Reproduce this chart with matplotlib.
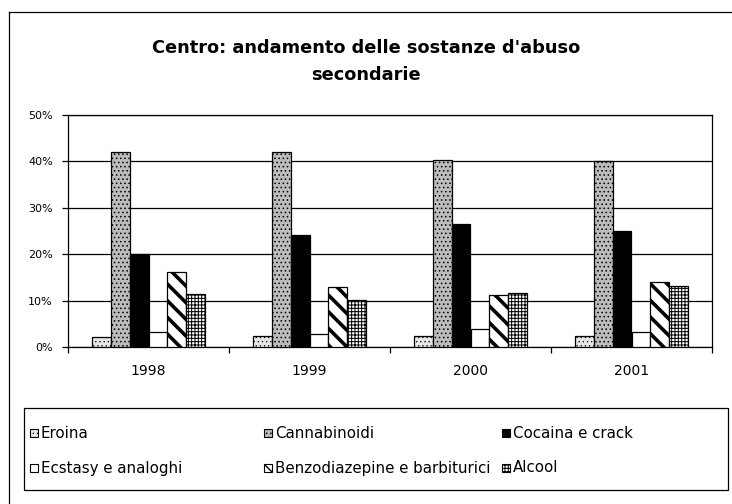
import numpy as np
import matplotlib
matplotlib.use('Agg')
import matplotlib.pyplot as plt
from matplotlib.patches import Rectangle

# data (percent)
anni = ['1998', '1999', '2000', '2001']
sostanze = ['Eroina', 'Cannabinoidi', 'Cocaina e crack',
            'Ecstasy e analoghi', 'Benzodiazepine e barbiturici', 'Alcool']
eroina = [2.1, 2.4, 2.4, 2.4]
cannabinoidi = [42.0, 42.0, 40.4, 40.1]
cocaina = [20.0, 24.1, 26.5, 25.0]
ecstasy = [3.2, 2.9, 3.9, 3.2]
benzodiazepine = [16.2, 13.0, 11.2, 14.1]
alcool = [11.4, 10.2, 11.6, 13.2]

serie = [eroina, cannabinoidi, cocaina, ecstasy, benzodiazepine, alcool]
stili = [
    dict(facecolor='#e6e6e6', hatch='....', hlw=0.4),
    dict(facecolor='#bcbcbc', hatch='....', hlw=0.6),
    dict(facecolor='black', hatch=None, hlw=1.0),
    dict(facecolor='white', hatch=None, hlw=1.0),
    dict(facecolor='white', hatch='\\\\', hlw=2.6),
    dict(facecolor='white', hatch='+++++', hlw=0.7),
]

plt.rcParams['font.family'] = ['DejaVu Sans']

W, H = 732, 504
fig = plt.figure(figsize=(W / 100, H / 100), dpi=100)


def fx(px):
    return px / W


def fy(py):
    return 1 - py / H


# outer chart border (only left and top visible in the scan)
fig.add_artist(plt.Line2D([fx(9), fx(9)], [fy(12), 0], color='black', lw=0.9))
fig.add_artist(plt.Line2D([fx(9), 1], [fy(12), fy(12)], color='black', lw=0.9))

ax = fig.add_axes([fx(68), fy(347), fx(712) - fx(68), fy(115) - fy(347)])

x = np.arange(len(anni))
w = 0.118
for j, (vals, st) in enumerate(zip(serie, stili)):
    bars = ax.bar(x + 0.5 + (j - 2.5) * w, vals, w, color=st['facecolor'],
                  edgecolor='black', linewidth=0.9, hatch=st['hatch'],
                  label=sostanze[j], zorder=3)
    for b in bars:
        try:
            b.set_hatch_linewidth(st['hlw'])
        except AttributeError:
            pass

ax.set_xlim(0, 4)
ax.set_ylim(0, 50)
ax.set_yticks(np.arange(0, 51, 10))
ax.set_yticklabels([f'{v}%' for v in range(0, 51, 10)], fontsize=8)
ax.yaxis.grid(True, color='black', lw=0.9, zorder=0)
ax.set_xticks(np.arange(0, 5))
ax.set_xticklabels([])
ax.set_xticks(x + 0.5, minor=True)
ax.set_xticklabels(anni, minor=True, fontsize=10)
ax.tick_params(axis='x', which='major', direction='out', length=4, width=0.9)
ax.tick_params(axis='x', which='minor', length=0, pad=12)
ax.tick_params(axis='y', direction='out', length=4, width=0.9, pad=7)
for s in ax.spines.values():
    s.set_linewidth(0.9)

fig.text(0.5, fy(48), "Centro: andamento delle sostanze d'abuso",
         ha='center', va='center', fontsize=12.8, fontweight='bold')
fig.text(0.5, fy(75), 'secondarie', ha='center', va='center',
         fontsize=12.8, fontweight='bold')

# legend box drawn by hand to keep the Excel layout
fig.add_artist(Rectangle((fx(24), fy(490)), fx(728) - fx(24), fy(408) - fy(490),
                         transform=fig.transFigure, facecolor='white',
                         edgecolor='black', lw=0.9))
col_x = [30, 264, 502]
row_y = [433, 468]
for k, nome in enumerate(sostanze):
    cx = col_x[k % 3]
    cy = row_y[k // 3]
    st = stili[k]
    r = Rectangle((fx(cx), fy(cy + 4)), fx(8), 8 / H, transform=fig.transFigure,
                  facecolor=st['facecolor'], edgecolor='black', lw=0.8,
                  hatch=st['hatch'])
    try:
        r.set_hatch_linewidth(min(st['hlw'], 1.0))
    except AttributeError:
        pass
    fig.add_artist(r)
    fig.text(fx(cx + 11), fy(cy), nome, ha='left', va='center', fontsize=10.8)

fig.savefig('out.png', dpi=100)
